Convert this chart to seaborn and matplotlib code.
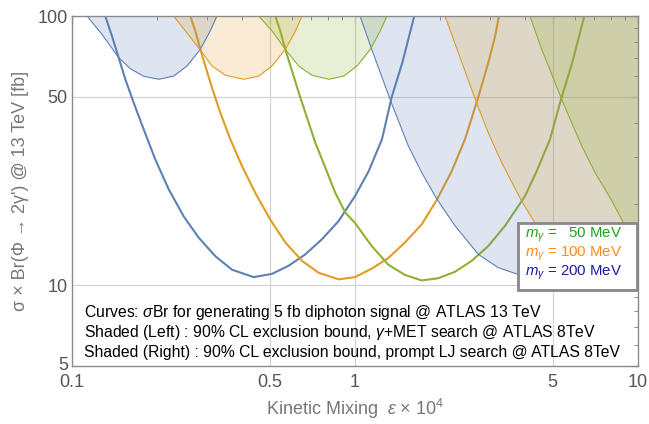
import numpy as np
import pandas as pd
import matplotlib
matplotlib.use("Agg")
import matplotlib.pyplot as plt
import matplotlib.transforms as mtransforms
import seaborn as sns
from matplotlib.patches import Rectangle
from matplotlib.ticker import FixedLocator, NullFormatter

# thick curves: sigma*Br needed for 5 fb diphoton signal
eps_200 = [0.1311, 0.1384, 0.1462, 0.1543, 0.1652, 0.1792, 0.1969, 0.2196, 0.2481, 0.2803, 0.3209, 0.3676,
           0.4386, 0.509, 0.5831, 0.6674, 0.7645, 0.8757, 1.0, 1.1177, 1.2452, 1.3483, 1.4697, 1.5515, 1.6204]
sig_200 = [100, 84.3, 70.0, 58.2, 47.6, 37.9, 29.3, 22.7, 18.0, 15.0, 12.8, 11.4,
           10.7, 11.0, 11.8, 13.0, 14.8, 17.3, 21.4, 26.5, 34.8, 50.0, 67.1, 83.8, 100]
eps_100 = [0.2618, 0.2727, 0.284, 0.2958, 0.3124, 0.3342, 0.3626, 0.3987, 0.4443, 0.5019, 0.5672, 0.6497,
           0.7442, 0.8757, 1.0, 1.1456, 1.3115, 1.5021, 1.7206, 1.9444, 2.1968, 2.4469, 2.7271, 2.958, 3.1246, 3.2273]
sig_100 = [100, 88.0, 75.2, 65.2, 54.1, 43.7, 34.8, 27.7, 22.0, 17.5, 14.4, 12.3,
           11.1, 10.5, 10.7, 11.5, 12.6, 14.4, 16.8, 20.7, 26.5, 34.8, 50.0, 67.1, 83.8, 100]
eps_50 = [0.5228, 0.5445, 0.5672, 0.5991, 0.6326, 0.6768, 0.724, 0.7856, 0.8519, 0.924, 1.0, 1.1456,
          1.3115, 1.5021, 1.7206, 1.9702, 2.2566, 2.5848, 2.958, 3.3884, 3.9875, 4.3853, 4.8865, 5.3752,
          5.859, 6.1878, 6.461]
sig_50 = [100, 88.0, 75.2, 62.5, 51.9, 41.9, 33.8, 27.3, 22.0, 18.6, 17.0, 13.96,
          11.9, 10.9, 10.4, 10.6, 11.2, 12.3, 13.96, 16.6, 21.4, 26.5, 34.8, 50.0,
          67.1, 83.8, 100]

# shaded left: gamma+MET bound
met_eps_200 = [0.113, 0.1276, 0.1462, 0.1607, 0.1792, 0.2025, 0.2287, 0.2549, 0.284, 0.3056, 0.3253]
met_sig_200 = [100, 85.5, 70.0, 63.7, 59.7, 58.2, 59.8, 65.2, 75.2, 86.7, 100]
met_eps_100 = [0.2287, 0.2514, 0.2827, 0.3124, 0.3481, 0.4044, 0.4568, 0.509, 0.5672, 0.6122, 0.6497]
met_sig_100 = [100, 88.0, 75.2, 65.2, 60.2, 58.2, 59.8, 65.2, 75.2, 86.7, 100]
met_eps_50 = [0.4568, 0.509, 0.5672, 0.6324, 0.7047, 0.8074, 0.9123, 1.0164, 1.1327, 1.2185, 1.2977]
met_sig_50 = [100, 88.0, 75.2, 65.2, 60.2, 58.2, 59.8, 65.2, 75.2, 86.7, 100]

# shaded right: prompt lepton-jet bound
lj_eps_200 = [1.0416, 1.1456, 1.3545, 1.5431, 1.7206, 1.9444, 2.2566, 2.7271, 3.2089, 3.6761,
              4.3, 5.2, 6.5, 8.0, 10.0]
lj_sig_200 = [100, 75.2, 46.6, 32.9, 26.2, 20.9, 16.6, 13.0, 11.6, 11.05,
              10.6, 10.4, 10.4, 10.6, 11.0]
lj_eps_100 = [2.0797, 2.2566, 2.6915, 2.958, 3.2989, 3.8815, 4.3251, 5.0, 5.45, 6.4, 7.3, 8.6, 10.0]
lj_sig_100 = [100, 78.9, 47.4, 36.8, 28.5, 20.5, 17.0, 14.3, 13.0, 11.6, 11.05, 10.6, 10.45]
lj_eps_50 = [4.1525, 4.5667, 5.445, 6.3244, 7.0484, 8.076, 8.9969, 10.0]
lj_sig_50 = [100, 75.2, 47.4, 32.9, 26.2, 20.6, 16.6, 13.96]

masses = ["200", "100", "50"]
colors = {"200": "#5E81B5", "100": "#E19C24", "50": "#8FB032"}
legend_labels = [r"$m_{\gamma}$ =   50 MeV", r"$m_{\gamma}$ = 100 MeV", r"$m_{\gamma}$ = 200 MeV"]
legend_colors = ["#22a022", "#ff8a1c", "#1c1ca0"]

curves = {"200": (eps_200, sig_200), "100": (eps_100, sig_100), "50": (eps_50, sig_50)}
met = {"200": (met_eps_200, met_sig_200), "100": (met_eps_100, met_sig_100), "50": (met_eps_50, met_sig_50)}
lj = {"200": (lj_eps_200, lj_sig_200), "100": (lj_eps_100, lj_sig_100), "50": (lj_eps_50, lj_sig_50)}

sns.set_style("white")
plt.rcParams["font.family"] = ["Liberation Sans", "DejaVu Sans"]
plt.rcParams["mathtext.fontset"] = "custom"
plt.rcParams["mathtext.rm"] = "Liberation Sans"
plt.rcParams["mathtext.it"] = "Liberation Sans:italic"

fig = plt.figure(figsize=(6.49, 4.24), dpi=100)
ax = fig.add_axes([72 / 649, 58 / 424, 566 / 649, 350 / 424])

for m in masses:
    c = colors[m]
    df = pd.DataFrame({"eps": curves[m][0], "sig": curves[m][1]})
    sns.lineplot(data=df, x="eps", y="sig", color=c, lw=1.5, sort=False, estimator=None, ax=ax, zorder=2)
    for bound in (met, lj):
        bx, by = bound[m]
        ax.fill_between(bx, by, 100, color=c, alpha=0.2, lw=0, zorder=3)
        bdf = pd.DataFrame({"eps": bx, "sig": by})
        sns.lineplot(data=bdf, x="eps", y="sig", color=c, lw=0.8, sort=False, estimator=None, ax=ax, zorder=4)

ax.set_xscale("log")
ax.set_yscale("log")
ax.set_xlim(0.1, 10)
ax.set_ylim(5, 100)

grid_c = "#d4d4d4"
for gx in [0.5, 1, 5]:
    ax.axvline(gx, color=grid_c, lw=0.9, zorder=1)
for gy in [10, 50]:
    ax.axhline(gy, color=grid_c, lw=0.9, zorder=1)

ax.xaxis.set_major_locator(FixedLocator([0.1, 0.5, 1, 5, 10]))
ax.set_xticklabels(["0.1", "0.5", "1", "5", "10"])
ax.xaxis.set_minor_locator(FixedLocator([0.2, 0.3, 0.4, 0.6, 0.7, 0.8, 0.9, 2, 3, 4, 6, 7, 8, 9]))
ax.xaxis.set_minor_formatter(NullFormatter())
ax.yaxis.set_major_locator(FixedLocator([5, 10, 50, 100]))
ax.set_yticklabels(["5", "10", "50", "100"])
ax.yaxis.set_minor_locator(FixedLocator([6, 7, 8, 9, 20, 30, 40, 60, 70, 80, 90]))
ax.yaxis.set_minor_formatter(NullFormatter())

frame_c = "#8a8a8a"
for sp in ax.spines.values():
    sp.set_color(frame_c)
    sp.set_linewidth(1.0)
    sp.set_zorder(6)
ax.tick_params(which="both", direction="in", top=True, right=True, color=frame_c,
               labelcolor="#555555", labelsize=13, pad=3)
ax.tick_params(axis="x", which="major", pad=6)
ax.tick_params(which="major", length=5, width=0.9)
ax.tick_params(which="minor", length=3, width=0.7)

# lift the bottom "5" a touch so it clears "0.1", as in the reference
lift = mtransforms.ScaledTranslation(0, 3 / 100, fig.dpi_scale_trans)
ylab5 = ax.get_yticklabels()[0]
ylab5.set_transform(ylab5.get_transform() + lift)

ax.set_xlabel(r"Kinetic Mixing  $\epsilon$ × 10$^4$", fontsize=13, color="#777777", labelpad=4)
ax.set_ylabel("σ × Br(Φ → 2γ') @ 13 TeV [fb]", fontsize=13, color="#777777", labelpad=6)

notes = [r"Curves: $\sigma$Br for generating 5 fb diphoton signal @ ATLAS 13 TeV",
         r"Shaded (Left) : 90% CL exclusion bound, $\gamma$+MET search @ ATLAS 8TeV",
         "Shaded (Right) : 90% CL exclusion bound, prompt LJ search @ ATLAS 8TeV"]
for i, t in enumerate(notes):
    ax.text(12 / 566, (366 - 312 - i * 20) / 350, t, transform=ax.transAxes,
            fontsize=11.3, color="black", va="center", ha="left", zorder=7)

# legend box drawn by hand so its size follows the reference
box = Rectangle((446 / 566, 76 / 350), 119 / 566, 67 / 350, transform=ax.transAxes,
                facecolor="white", edgecolor="#888888", lw=2, zorder=8)
ax.add_patch(box)
for i, (lab, lc) in enumerate(zip(legend_labels, legend_colors)):
    ax.text(453 / 566, (366 - 235 - i * 19) / 350, lab, transform=ax.transAxes,
            fontsize=10.8, color=lc, va="center", ha="left", zorder=9)

fig.savefig("out.png", dpi=100)
